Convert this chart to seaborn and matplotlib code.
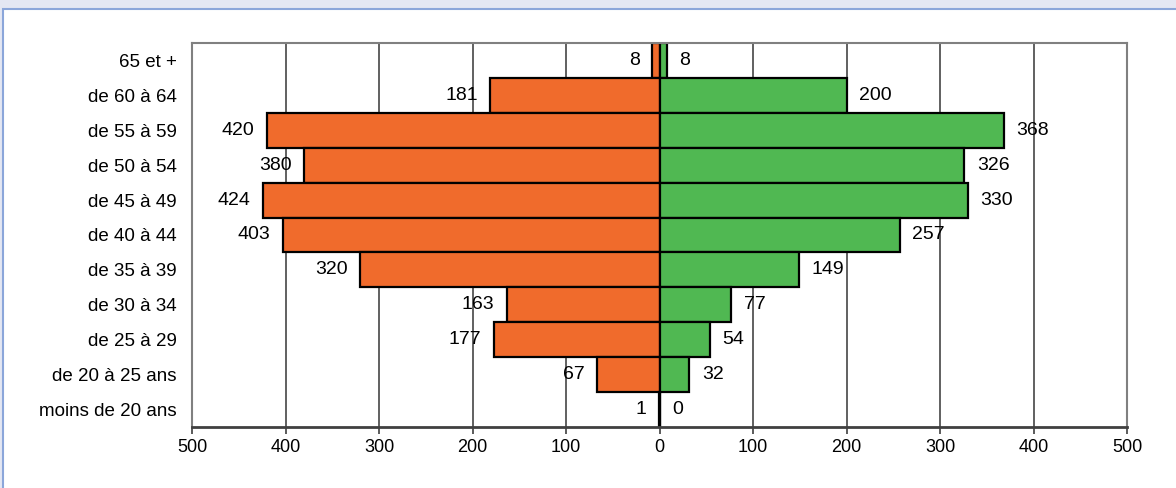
import matplotlib
matplotlib.use("Agg")
import matplotlib.pyplot as plt
import numpy as np
import pandas as pd
import seaborn as sns
from matplotlib.patches import Rectangle

# ── Data ──────────────────────────────────────────────────────────────────────
tranches = [
    "65 et +", "de 60 à 64", "de 55 à 59", "de 50 à 54", "de 45 à 49",
    "de 40 à 44", "de 35 à 39", "de 30 à 34", "de 25 à 29",
    "de 20 à 25 ans", "moins de 20 ans",
]
gauche = [8, 181, 420, 380, 424, 403, 320, 163, 177, 67, 1]   # orange side
droite = [8, 200, 368, 326, 330, 257, 149, 77, 54, 32, 0]     # green side
x_ticks = [-500, -400, -300, -200, -100, 0, 100, 200, 300, 400, 500]

ORANGE = "#f06b2c"
GREEN = "#50b852"

df = pd.DataFrame({"tranche": tranches,
                   "gauche": -np.array(gauche),
                   "droite": np.array(droite)})

# ── Figure ────────────────────────────────────────────────────────────────────
sns.set_theme(style="white")
plt.rcParams["font.family"] = ["Liberation Sans", "DejaVu Sans"]

W, H = 1176, 488
fig = plt.figure(figsize=(W / 100, H / 100), dpi=100)
fig.patch.set_facecolor("#e4e7f3")
fig.patches.append(Rectangle((3 / W, -0.1), 1.2, (H - 9) / H + 0.1,
                             transform=fig.transFigure, facecolor="white",
                             edgecolor="#8ba6da", linewidth=1.5, zorder=-10))

ax = fig.add_axes([192 / W, 1 - 427 / H, (1127 - 192) / W, (427 - 43) / H])
ax.set_facecolor("white")

sns.barplot(data=df, x="gauche", y="tranche", orient="h", color=ORANGE,
            saturation=1, width=1.0, edgecolor="black", linewidth=1.6, ax=ax)
sns.barplot(data=df, x="droite", y="tranche", orient="h", color=GREEN,
            saturation=1, width=1.0, edgecolor="black", linewidth=1.6, ax=ax)

ax.set_xlim(-500, 500)
ax.set_ylim(len(tranches) - 0.5, -0.5)
ax.set_axisbelow(True)
ax.xaxis.grid(True, color="#454545", linewidth=1.2)
ax.yaxis.grid(False)

ax.set_xticks(x_ticks)
ax.set_xticklabels([str(abs(t)) for t in x_ticks])
ax.tick_params(axis="x", bottom=True, length=5, width=1.2, color="#404040",
               pad=4, direction="out", labelsize=13, labelcolor="black")
ax.tick_params(axis="y", left=False, labelsize=13.5, pad=5,
               labelcolor="black")
ax.set_xlabel("")
ax.set_ylabel("")

for side in ["top", "left", "right"]:
    ax.spines[side].set_color("#808080")
    ax.spines[side].set_linewidth(1.5)
ax.spines["bottom"].set_color("#404040")
ax.spines["bottom"].set_linewidth(2)

# value labels
for i, (g, d) in enumerate(zip(gauche, droite)):
    ax.annotate(str(g), xy=(-g, i), xytext=(-9, 0), textcoords="offset points",
                ha="right", va="center", fontsize=14, color="black")
    ax.annotate(str(d), xy=(d, i), xytext=(9, 0), textcoords="offset points",
                ha="left", va="center", fontsize=14, color="black")

fig.savefig("out.png", dpi=100, facecolor=fig.get_facecolor())
